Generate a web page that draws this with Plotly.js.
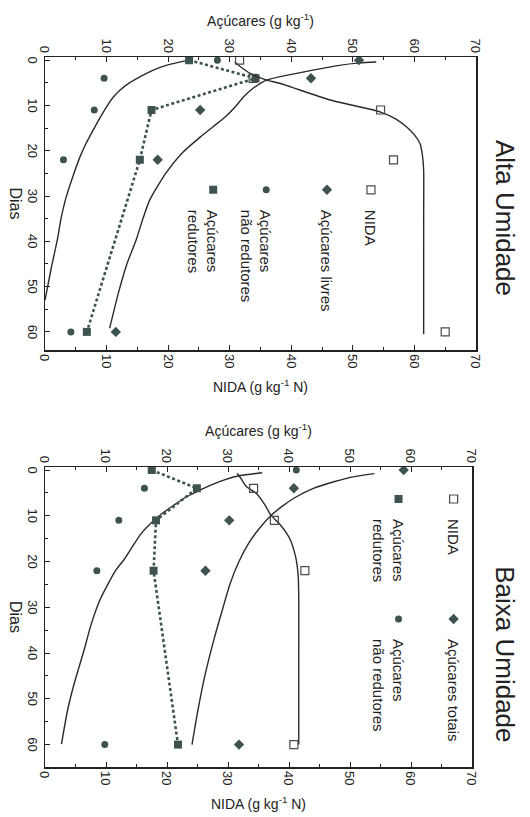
<!DOCTYPE html>
<html>
<head>
<meta charset="utf-8">
<script src="https://cdn.plot.ly/plotly-3.0.1.min.js"></script>
<style>
html,body{margin:0;padding:0;width:530px;height:817px;overflow:hidden;background:#ffffff;}
.panel{position:absolute;left:0;transform-origin:0 0;}
#alta{top:0;width:400px;height:530px;transform:translate(530px,0) rotate(90deg);}
#baixa{top:400px;width:417px;height:530px;transform:translate(530px,0) rotate(90deg);}
</style>
</head>
<body>
<div id="alta" class="panel"></div>
<div id="baixa" class="panel"></div>
<script>
// ---------- DATA: Alta Umidade ----------
const diasAlta = [0, 4, 11, 22, 60];
const altaNIDA = [31.6, 33.8, 54.5, 56.6, 65.0];
const altaLivres = [51.0, 43.2, 25.2, 18.3, 11.5];
const altaNaoRed = [28.0, 9.6, 8.0, 3.0, 4.2];
const altaRed = [23.4, 34.2, 17.3, 15.4, 6.8];

// fitted curves
const altaLivresFitX = [0.4, 0.6, 1.2, 2.2, 3.2, 4.4, 6.2, 8, 10.3, 12.5, 14.7, 17, 20.6, 25, 30.9, 35, 39.7, 45, 51.5, 59.2];
const altaLivresFitY = [53.8, 51.1, 47.5, 43.5, 39.8, 36.0, 33.8, 32.3, 30.9, 29.3, 27.3, 25.2, 22.2, 19.6, 17.0, 15.9, 14.8, 13.3, 11.9, 10.5];
const altaNaoRedFitX = [0, 1.1, 2.3, 3.7, 5, 6.6, 8.3, 10.3, 12.8, 15.5, 18.3, 21.3, 25.8, 30.9, 35, 39.7, 46, 53];
const altaNaoRedFitY = [23.3, 19.8, 17.4, 15.4, 13.7, 12.2, 11.0, 10.0, 8.9, 7.8, 6.7, 5.7, 4.5, 3.3, 2.6, 2.0, 1.0, 0];
const altaNIDAFitX = [0.4, 1.5, 2.9, 4.4, 5.1, 8.8, 11.4, 13, 14.7, 16.5, 18.4, 21, 24.3, 35, 45, 60.5];
const altaNIDAFitY = [30.8, 31.8, 33.3, 36.0, 38.1, 46.3, 54.4, 57.0, 58.7, 60.0, 60.9, 61.3, 61.5, 61.5, 61.5, 61.5];

// ---------- DATA: Baixa Umidade ----------
const diasBaixa = [0, 4, 11, 22, 60];
const baixaNIDA = [null, 34.2, 37.6, 42.6, 40.8];
const baixaTotais = [58.8, 40.8, 30.2, 26.3, 31.8];
const baixaNaoRed = [41.2, 16.3, 12.1, 8.5, 9.8];
const baixaRed = [17.5, 24.9, 18.2, 17.8, 21.8];

const baixaTotaisFitX = [0.8, 1.5, 2.5, 4, 6, 8, 10, 13, 16, 20, 25, 30, 37, 45, 53, 60];
const baixaTotaisFitY = [54.0, 50.5, 47.5, 44.0, 41.0, 38.8, 37.0, 35.0, 33.4, 31.8, 30.3, 29.2, 27.7, 26.2, 25.0, 24.1];
const baixaNaoRedFitX = [0.6, 1.2, 2.2, 3.4, 4.7, 6, 7.7, 9.5, 11.7, 14, 16.8, 19.5, 21.9, 25, 28.4, 34, 39.4, 46.6, 52.5, 59.9];
const baixaNaoRedFitY = [35.6, 32.0, 29.3, 27.0, 24.9, 23.0, 21.1, 19.2, 17.3, 15.7, 14.3, 13.0, 11.6, 10.3, 9.0, 7.5, 6.4, 4.8, 3.7, 2.7];
const baixaNIDAFitX = [0.7, 2, 3.6, 5.1, 7.5, 9.8, 12, 13.8, 15.5, 17.5, 19.7, 23, 28, 40, 50, 60];
const baixaNIDAFitY = [31.5, 32.2, 33.0, 34.6, 36.0, 37.0, 38.6, 39.6, 40.3, 40.8, 41.2, 41.5, 41.6, 41.6, 41.6, 41.6];

const tickDias = [0, 10, 20, 30, 40, 50, 60];
const tickVals = [0, 10, 20, 30, 40, 50, 60, 70];

// ---------- STYLE ----------
const FONT = 'Liberation Sans, Arial, Helvetica, sans-serif';
const INK = '#222222';
const MARK = '#3e5252';
const LINE = '#2a2a2a';

function fit(x, y, yaxis) {
  return {x: x, y: y, yaxis: yaxis, type: 'scatter', mode: 'lines', showlegend: false,
          line: {color: LINE, width: 1.4, shape: 'spline', smoothing: 0.6}, hoverinfo: 'skip'};
}
function pts(x, y, yaxis, name, symbol, size, legend, color, lw) {
  return {x: x, y: y, yaxis: yaxis, type: 'scatter', mode: 'markers', name: name, legend: legend,
          marker: {symbol: symbol, size: size, color: color || MARK, line: {width: lw || 0, color: color || MARK}}};
}
function dashed(x, y) {
  return {x: x, y: y, yaxis: 'y', type: 'scatter', mode: 'lines', showlegend: false,
          line: {color: MARK, width: 2.6, dash: '3px,2.5px'}};
}
function leg(x, y) {
  return {x: x, y: y, xanchor: 'left', yanchor: 'top', bgcolor: 'rgba(0,0,0,0)', borderwidth: 0,
          font: {size: 15, family: FONT, color: INK}, valign: 'top', itemwidth: 30};
}
function axes(xrange) {
  const common = {ticks: 'inside', ticklen: 5, tickwidth: 1, tickcolor: INK, showline: true, linecolor: INK,
                  linewidth: 1.5, showgrid: false, zeroline: false, tickfont: {size: 13, family: FONT, color: INK}};
  return {
    xaxis: Object.assign({}, common, {range: xrange, tickmode: 'array', tickvals: tickDias, mirror: true,
      minor: {ticks: 'inside', ticklen: 3, tickvals: [5, 15, 25, 35, 45, 55], tickcolor: INK},
      title: {text: 'Dias', font: {size: 16, family: FONT, color: INK}, standoff: 4}}),
    yaxis: Object.assign({}, common, {range: [0, 70], tickmode: 'array', tickvals: tickVals,
      minor: {ticks: 'inside', ticklen: 3, tickvals: [5, 15, 25, 35, 45, 55, 65], tickcolor: INK},
      title: {text: 'Açúcares (g kg<sup>-1</sup>)', font: {size: 14, family: FONT, color: INK}, standoff: 8}}),
    yaxis2: Object.assign({}, common, {range: [0, 70], tickmode: 'array', tickvals: tickVals, overlaying: 'y', side: 'right',
      minor: {ticks: 'inside', ticklen: 3, tickvals: [5, 15, 25, 35, 45, 55, 65], tickcolor: INK},
      title: {text: 'NIDA (g kg<sup>-1</sup> N)', font: {size: 14, family: FONT, color: INK}, standoff: 14}})
  };
}

// ---------- Alta Umidade ----------
const altaTraces = [
  fit(altaLivresFitX, altaLivresFitY, 'y'),
  fit(altaNaoRedFitX, altaNaoRedFitY, 'y'),
  fit(altaNIDAFitX, altaNIDAFitY, 'y2'),
  dashed(diasAlta, altaRed),
  pts(diasAlta, altaNIDA, 'y2', 'NIDA', 'square-open', 8, 'legend', '#4a4a4a', 1.2),
  pts(diasAlta, altaLivres, 'y', 'Açúcares livres', 'diamond', 8, 'legend2'),
  pts(diasAlta, altaNaoRed, 'y', 'Açúcares<br>não redutores', 'circle', 7, 'legend3'),
  pts(diasAlta, altaRed, 'y', 'Açúcares<br>redutores', 'square', 8, 'legend4')
];
const altaLayout = Object.assign({
  width: 400, height: 530,
  margin: {l: 57, r: 50, t: 54, b: 45},
  paper_bgcolor: '#ffffff', plot_bgcolor: '#ffffff',
  font: {family: FONT, color: INK},
  title: {text: 'Alta Umidade', x: 0.545, xanchor: 'center', y: 0.953, yanchor: 'middle',
          font: {size: 26, family: FONT, color: INK}},
  legend: leg(0.385, 0.794),
  legend2: leg(0.385, 0.692),
  legend3: leg(0.385, 0.551),
  legend4: leg(0.385, 0.428)
}, axes([-0.7, 64]));

// ---------- Baixa Umidade ----------
const baixaTraces = [
  fit(baixaTotaisFitX, baixaTotaisFitY, 'y'),
  fit(baixaNaoRedFitX, baixaNaoRedFitY, 'y'),
  fit(baixaNIDAFitX, baixaNIDAFitY, 'y2'),
  dashed(diasBaixa, baixaRed),
  pts(diasBaixa, baixaNIDA, 'y2', 'NIDA', 'square-open', 8, 'legend', '#4a4a4a', 1.2),
  pts(diasBaixa, baixaTotais, 'y', 'Açúcares totais', 'diamond', 8, 'legend2'),
  pts(diasBaixa, baixaRed, 'y', 'Açúcares<br>redutores', 'square', 8, 'legend3'),
  pts(diasBaixa, baixaNaoRed, 'y', 'Açúcares<br>não redutores', 'circle', 7, 'legend4')
];
const baixaLayout = Object.assign({
  width: 417, height: 530,
  margin: {l: 67, r: 50, t: 58, b: 45},
  paper_bgcolor: '#ffffff', plot_bgcolor: '#ffffff',
  font: {family: FONT, color: INK},
  title: {text: 'Baixa Umidade', x: 0.61, xanchor: 'center', y: 0.953, yanchor: 'middle',
          font: {size: 26, family: FONT, color: INK}},
  legend: leg(0.04, 0.995),
  legend2: leg(0.44, 0.995),
  legend3: leg(0.04, 0.866),
  legend4: leg(0.44, 0.866)
}, axes([-0.66, 64.9]));

const cfg = {staticPlot: true, displayModeBar: false};
Plotly.newPlot('alta', altaTraces, altaLayout, cfg);
Plotly.newPlot('baixa', baixaTraces, baixaLayout, cfg);
</script>
</body>
</html>
